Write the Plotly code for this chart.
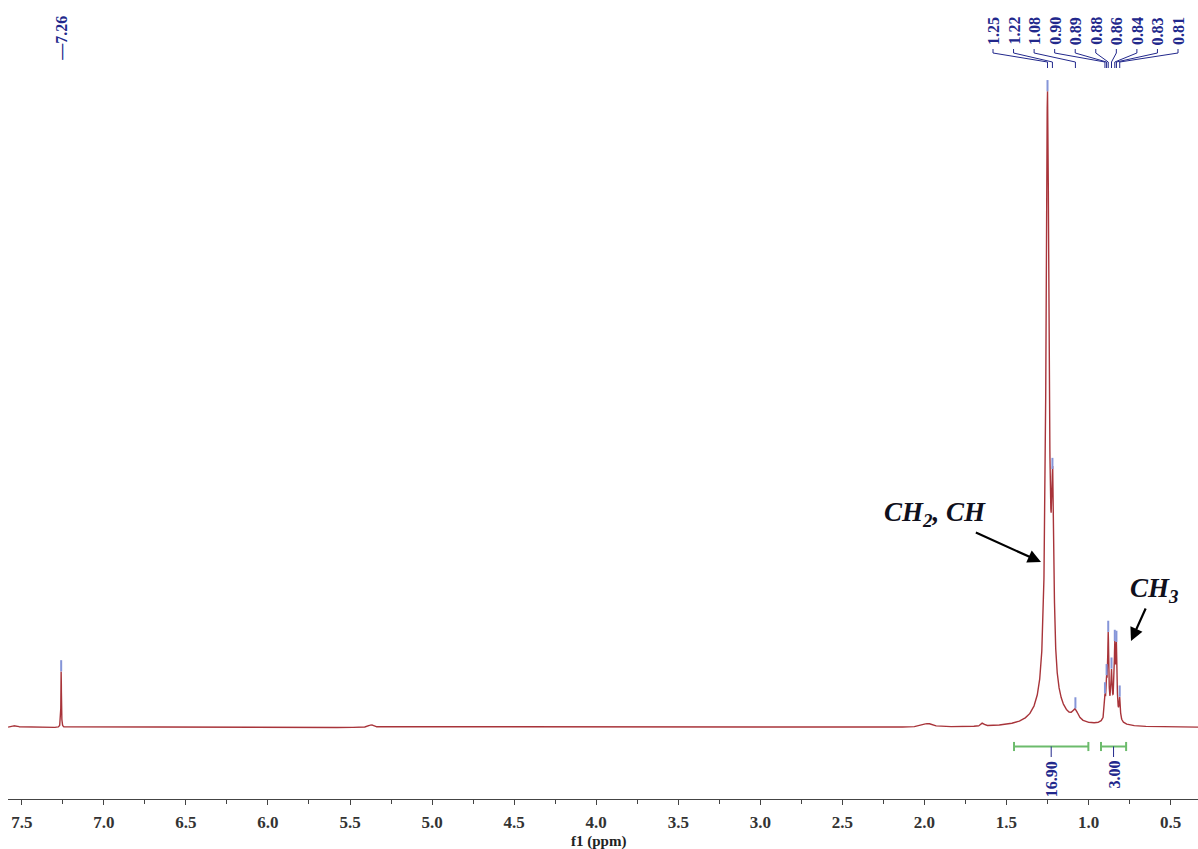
import numpy as np
import plotly.graph_objects as go

# ---------------- data ----------------
# Lorentzian peak list: centre (ppm), relative height, half width (ppm)
peak_ppm = [7.54, 7.26, 5.37, 1.98, 1.645, 1.25, 1.218, 1.235, 1.08,
            0.90, 0.89, 0.88, 0.86, 0.84, 0.83, 0.81, 0.855]
peak_height = [0.003, 0.087, 0.004, 0.0055, 0.005, 0.92, 0.26, 0.045, 0.016,
               0.03, 0.045, 0.12, 0.055, 0.095, 0.10, 0.032, 0.022]
peak_hwhm = [0.02, 0.0018, 0.02, 0.035, 0.01, 0.011, 0.008, 0.07, 0.02,
             0.004, 0.004, 0.004, 0.004, 0.004, 0.004, 0.004, 0.03]

# peak-pick labels
solvent_label = "7.26"
label_values = ["1.25", "1.22", "1.08", "0.90", "0.89", "0.88", "0.86", "0.84", "0.83", "0.81"]

# integrals
integral_from = [1.454, 0.924]
integral_to = [1.001, 0.771]
integral_values = ["16.90", "3.00"]

# axis
x_range = [7.584, 0.333]
y_range = [-0.11, 1.1192]

# ---------------- helpers for layout placement ----------------
W, H = 1198, 849
ML, MB = 8, 50
PW, PH = W - ML, H - MB


def px2ppm(px):
    return x_range[0] - (px - ML) * (x_range[0] - x_range[1]) / PW


def py2y(py):
    return y_range[1] - py * (y_range[1] - y_range[0]) / PH


def px2paper(px):
    return (px - ML) / PW


def py2paper(py):
    return 1 - py / PH


# ---------------- spectrum ----------------
ppm = np.arange(x_range[1], x_range[0], 0.0004)
intensity = np.zeros_like(ppm)
for c, h, w in zip(peak_ppm, peak_height, peak_hwhm):
    intensity += h / (1 + ((ppm - c) / w) ** 2)

RED = "#a8343a"
NAVY = "#22288c"
MARK = "#8595d8"
GREEN = "#6cbb6c"
SERIF = "Liberation Serif"

fig = go.Figure()
fig.add_trace(go.Scatter(x=ppm, y=intensity, mode="lines",
                         line=dict(color=RED, width=1.4), hoverinfo="skip"))

# peak markers above picked peaks
pick_ppm = [float(solvent_label)] + [float(v) for v in label_values]
pick_y = [float(np.interp(p, ppm, intensity)) + 0.009 for p in pick_ppm]
fig.add_trace(go.Scatter(x=pick_ppm, y=pick_y, mode="markers",
                         marker=dict(symbol="line-ns", size=8,
                                     line=dict(color=MARK, width=2)),
                         hoverinfo="skip"))

annotations = []
shapes = []

# solvent label
annotations.append(dict(x=float(solvent_label), y=py2y(63), xref="x", yref="y",
                        text="\u2014" + solvent_label, textangle=-90, showarrow=False,
                        xanchor="center", yanchor="bottom",
                        font=dict(family=SERIF, size=16, color=NAVY, weight="bold")))

# multiplet labels with connector lines
n = len(label_values)
lab_px = [993 + i * (1178 - 993) / (n - 1) for i in range(n)]
for lx, v in zip(lab_px, label_values):
    lp = px2ppm(lx)
    pv = float(v)
    annotations.append(dict(x=lp, y=py2y(47), xref="x", yref="y", text=v,
                            textangle=-90, showarrow=False,
                            xanchor="center", yanchor="bottom",
                            font=dict(family=SERIF, size=16, color=NAVY, weight="bold")))
    path = (f"M {lp},{py2y(49)} L {lp},{py2y(53)} "
            f"L {pv},{py2y(62)} L {pv},{py2y(68)}")
    shapes.append(dict(type="path", path=path, xref="x", yref="y",
                       line=dict(color=NAVY, width=1)))

# integrals
yi = py2y(746.5)
for a, b, v in zip(integral_from, integral_to, integral_values):
    shapes.append(dict(type="line", x0=a, x1=b, y0=yi, y1=yi, xref="x", yref="y",
                       line=dict(color=GREEN, width=2)))
    for e in (a, b):
        shapes.append(dict(type="line", x0=e, x1=e, y0=yi - 0.007, y1=yi + 0.007,
                           xref="x", yref="y", line=dict(color=GREEN, width=2)))
    mid = (a + b) / 2
    shapes.append(dict(type="line", x0=mid, x1=mid, y0=yi, y1=py2y(757),
                       xref="x", yref="y", line=dict(color=NAVY, width=1)))
    annotations.append(dict(x=mid, y=py2y(759), xref="x", yref="y", text=v,
                            textangle=-90, showarrow=False,
                            xanchor="center", yanchor="top",
                            font=dict(family=SERIF, size=16, color=NAVY, weight="bold")))

# group assignments (text with arrow pointing at the signal)
TXT = "#10101c"
annotations.append(dict(x=px2paper(1041), y=py2paper(562), xref="paper", yref="paper",
                        ax=935 - 1041, ay=514 - 562, axref="pixel", ayref="pixel",
                        text="<b><i>CH<sub>2</sub>, CH</i></b>", showarrow=True,
                        arrowhead=2, arrowsize=1.2, arrowwidth=2.2, arrowcolor="#000000",
                        font=dict(family=SERIF, size=27, color=TXT)))
annotations.append(dict(x=px2paper(1131), y=py2paper(641), xref="paper", yref="paper",
                        ax=1154 - 1131, ay=590 - 641, axref="pixel", ayref="pixel",
                        text="<b><i>CH<sub>3</sub></i></b>", showarrow=True,
                        arrowhead=2, arrowsize=1.2, arrowwidth=2.2, arrowcolor="#000000",
                        font=dict(family=SERIF, size=27, color=TXT)))

# axis title
annotations.append(dict(x=px2paper(598), y=py2paper(841), xref="paper", yref="paper",
                        text="f1 (ppm)", showarrow=False,
                        xanchor="center", yanchor="middle",
                        font=dict(family=SERIF, size=15, color="#222222", weight="bold")))

fig.update_layout(
    width=W, height=H,
    margin=dict(l=ML, r=0, t=0, b=MB, pad=0),
    paper_bgcolor="white", plot_bgcolor="white",
    showlegend=False,
    annotations=annotations, shapes=shapes,
    xaxis=dict(range=x_range, showgrid=False, zeroline=False,
               showline=True, linecolor="#444444", linewidth=1,
               ticks="outside", ticklen=5, tickwidth=1, tickcolor="#444444",
               tick0=0, dtick=0.5, tickformat=".1f", ticklabelstandoff=3,
               tickfont=dict(family=SERIF, size=17, color="#333333", weight="bold"),
               minor=dict(dtick=0.25, ticks="outside", ticklen=4, tickcolor="#444444",
                          showgrid=False)),
    yaxis=dict(range=y_range, visible=False, showgrid=False, zeroline=False),
)

fig.write_html("out.html")
